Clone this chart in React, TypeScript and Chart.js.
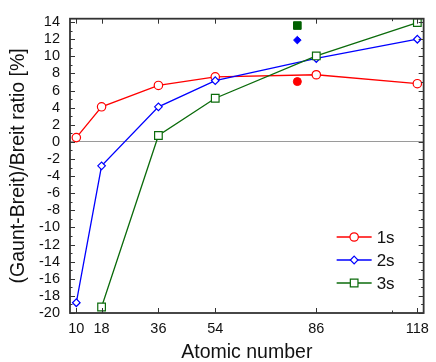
import React, { useEffect, useRef } from 'react';
import { Chart, registerables } from 'chart.js';

Chart.register(...registerables);

const atomicNumbers = [10, 18, 36, 54, 86, 118];
const ratio1s = [0.5, 4.1, 6.6, 7.6, 7.85, 6.8];
const ratio2s = [-18.8, -2.8, 4.1, 7.15, 9.75, 12.0];
const atomicNumbers3s = [18, 36, 54, 86, 118];
const ratio3s = [-19.3, 0.75, 5.1, 10.05, 13.95];
const goldZ = [80];
const gold1s = [7.05];
const gold2s = [11.9];
const gold3s = [13.6];
const xTickValues = [10, 18, 36, 54, 86, 118];
const xMinorTicks = [110];
const yTickValues = [-20, -18, -16, -14, -12, -10, -8, -6, -4, -2, 0, 2, 4, 6, 8, 10, 12, 14];
const legendLabels = ['1s', '2s', '3s'];

const RED = '#ff0000';
const BLUE = '#0000ff';
const GREEN = '#0b6b0b';
const FONT = "'Liberation Sans', Arial, sans-serif";

function pts(xs: number[], ys: number[]) {
  return xs.map((x, i) => ({ x, y: ys[i] }));
}

function drawMarker(ctx: CanvasRenderingContext2D, style: string, x: number, y: number, r: number) {
  ctx.beginPath();
  if (style === 'circle') {
    ctx.arc(x, y, r, 0, Math.PI * 2);
  } else if (style === 'rectRot') {
    ctx.moveTo(x, y - r);
    ctx.lineTo(x + r, y);
    ctx.lineTo(x, y + r);
    ctx.lineTo(x - r, y);
    ctx.closePath();
  } else {
    const s = r * Math.SQRT1_2;
    ctx.rect(x - s, y - s, 2 * s, 2 * s);
  }
  ctx.fill();
  ctx.stroke();
}

const framePlugin = {
  id: 'framePlugin',
  afterDraw(chart: any) {
    const { ctx, chartArea } = chart;
    const { left, right, top, bottom } = chartArea;
    const xs = chart.scales.x;
    const ys = chart.scales.y;
    ctx.save();
    ctx.strokeStyle = '#333333';
    ctx.lineWidth = 1;
    ctx.beginPath();
    for (let v = -20; v <= 14; v += 1) {
      const py = Math.round(ys.getPixelForValue(v)) + 0.5;
      const len = v % 2 === 0 ? 5 : 2.5;
      ctx.moveTo(left, py);
      ctx.lineTo(left + len, py);
      ctx.moveTo(right, py);
      ctx.lineTo(right - len, py);
    }
    xTickValues.forEach((v) => {
      const px = Math.round(xs.getPixelForValue(v)) + 0.5;
      ctx.moveTo(px, bottom);
      ctx.lineTo(px, bottom - 5);
      ctx.moveTo(px, top);
      ctx.lineTo(px, top + 5);
    });
    xMinorTicks.forEach((v) => {
      const px = Math.round(xs.getPixelForValue(v)) + 0.5;
      ctx.moveTo(px, bottom);
      ctx.lineTo(px, bottom - 2.5);
      ctx.moveTo(px, top);
      ctx.lineTo(px, top + 2.5);
    });
    ctx.stroke();
    ctx.lineWidth = 1.8;
    ctx.strokeRect(left, top, right - left, bottom - top);

    // legend
    const styles = ['circle', 'rectRot', 'rect'];
    const colors = [RED, BLUE, GREEN];
    const radii = [4.2, 3.8, 5.4];
    const rows = [bottom - 76, bottom - 53, bottom - 30];
    ctx.font = `17px ${FONT}`;
    ctx.textBaseline = 'middle';
    ctx.textAlign = 'left';
    legendLabels.forEach((lab, i) => {
      const y = rows[i];
      const x0 = right - 87;
      const x1 = right - 52;
      ctx.strokeStyle = colors[i];
      ctx.lineWidth = 1.3;
      ctx.beginPath();
      ctx.moveTo(x0, y);
      ctx.lineTo(x1, y);
      ctx.stroke();
      ctx.fillStyle = '#ffffff';
      ctx.lineWidth = 1.2;
      drawMarker(ctx, styles[i], (x0 + x1) / 2, y, radii[i]);
      ctx.fillStyle = '#111111';
      ctx.fillText(lab, right - 47, y + 1);
    });
    ctx.restore();
  },
};

export default function App() {
  const ref = useRef<HTMLCanvasElement>(null);
  useEffect(() => {
    if (!ref.current) return;
    const chart = new Chart(ref.current, {
      type: 'scatter',
      data: {
        datasets: [
          {
            label: '3s',
            data: pts(atomicNumbers3s, ratio3s),
            showLine: true,
            borderColor: GREEN,
            borderWidth: 1.3,
            pointStyle: 'rect',
            pointRadius: 5.4,
            pointBorderWidth: 1.2,
            pointBackgroundColor: '#ffffff',
            pointBorderColor: GREEN,
          },
          {
            label: '2s',
            data: pts(atomicNumbers, ratio2s),
            showLine: true,
            borderColor: BLUE,
            borderWidth: 1.3,
            pointStyle: 'rectRot',
            pointRadius: 3.8,
            pointBorderWidth: 1.2,
            pointBackgroundColor: '#ffffff',
            pointBorderColor: BLUE,
          },
          {
            label: '1s',
            data: pts(atomicNumbers, ratio1s),
            showLine: true,
            borderColor: RED,
            borderWidth: 1.3,
            pointStyle: 'circle',
            pointRadius: 4.2,
            pointBorderWidth: 1.2,
            pointBackgroundColor: '#ffffff',
            pointBorderColor: RED,
          },
          {
            label: '1s Au',
            data: pts(goldZ, gold1s),
            showLine: false,
            pointStyle: 'circle',
            pointRadius: 4,
            pointBackgroundColor: RED,
            pointBorderColor: RED,
          },
          {
            label: '2s Au',
            data: pts(goldZ, gold2s),
            showLine: false,
            pointStyle: 'rectRot',
            pointRadius: 3.8,
            pointBackgroundColor: BLUE,
            pointBorderColor: BLUE,
          },
          {
            label: '3s Au',
            data: pts(goldZ, gold3s),
            showLine: false,
            pointStyle: 'rect',
            pointRadius: 5.4,
            pointBackgroundColor: '#006000',
            pointBorderColor: '#006000',
          },
        ],
      },
      options: {
        responsive: false,
        animation: false,
        devicePixelRatio: 1,
        layout: { autoPadding: false, padding: { top: 13, right: 6, left: 0, bottom: 0 } },
        plugins: { legend: { display: false }, tooltip: { enabled: false } },
        scales: {
          x: {
            type: 'linear',
            min: 8,
            max: 120,
            afterBuildTicks: (s: any) => {
              s.ticks = xTickValues.map((v) => ({ value: v }));
            },
            afterFit: (s: any) => {
              s.height = 49;
            },
            grid: { display: false, drawTicks: false },
            border: { display: false },
            ticks: {
              font: { size: 14.5, family: FONT },
              color: '#111111',
              padding: 7,
              maxRotation: 0,
              autoSkip: false,
            },
            title: {
              display: true,
              text: 'Atomic number',
              font: { size: 19.5, family: FONT, lineHeight: 1 },
              color: '#111111',
              padding: { top: 0, bottom: 0 },
            },
          },
          y: {
            type: 'linear',
            min: -20,
            max: 14.4,
            afterBuildTicks: (s: any) => {
              s.ticks = yTickValues.map((v) => ({ value: v }));
            },
            afterFit: (s: any) => {
              s.width = 70;
            },
            grid: {
              drawTicks: false,
              color: (c: any) => (c.tick && c.tick.value === 0 ? '#9a9a9a' : 'rgba(0,0,0,0)'),
              lineWidth: 1,
            },
            border: { display: false },
            ticks: {
              font: { size: 14.5, family: FONT },
              color: '#111111',
              padding: 10,
              autoSkip: false,
            },
            title: {
              display: true,
              text: '(Gaunt-Breit)/Breit ratio [%]',
              font: { size: 19.5, family: FONT, lineHeight: 1 },
              color: '#111111',
              padding: { top: 9, bottom: 0 },
            },
          },
        },
      },
      plugins: [framePlugin],
    } as any);
    return () => chart.destroy();
  }, []);
  return (
    <div style={{ position: 'absolute', left: 0, top: 0, width: 436, height: 362, background: '#ffffff' }}>
      <canvas ref={ref} width={436} height={362} />
    </div>
  );
}
